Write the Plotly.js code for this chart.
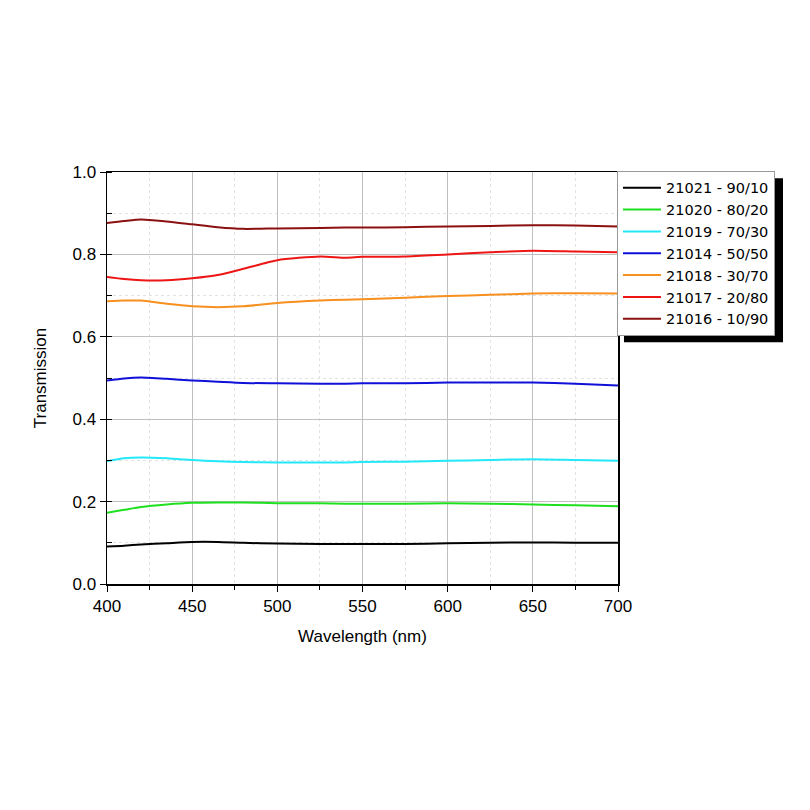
<!DOCTYPE html>
<html>
<head>
<meta charset="utf-8">
<script src="https://cdn.plot.ly/plotly-3.0.1.min.js"></script>
<style>html,body{margin:0;padding:0;background:#fff;}#chart{width:810px;height:810px;}</style>
</head>
<body>
<div id="chart"></div>
<script>
const wavelength = [400,410,420,435,450,465,480,500,525,540,550,575,600,625,650,675,700];

const names = ["21021 - 90/10","21020 - 80/20","21019 - 70/30","21014 - 50/50","21018 - 30/70","21017 - 20/80","21016 - 10/90"];

const t21021 = [0.091,0.093,0.096,0.099,0.102,0.102,0.100,0.098,0.097,0.097,0.097,0.097,0.099,0.100,0.101,0.100,0.100];
const t21020 = [0.173,0.180,0.187,0.193,0.197,0.198,0.198,0.196,0.196,0.195,0.195,0.195,0.196,0.195,0.193,0.191,0.189];
const t21019 = [0.298,0.305,0.307,0.305,0.301,0.298,0.296,0.295,0.295,0.295,0.296,0.297,0.299,0.301,0.303,0.301,0.299];
const t21014 = [0.494,0.499,0.501,0.498,0.494,0.491,0.488,0.487,0.486,0.486,0.487,0.487,0.489,0.489,0.489,0.486,0.482];
const t21018 = [0.686,0.688,0.688,0.680,0.674,0.672,0.674,0.682,0.688,0.690,0.691,0.695,0.699,0.702,0.705,0.706,0.705];
const t21017 = [0.745,0.740,0.737,0.737,0.742,0.750,0.765,0.786,0.795,0.792,0.794,0.795,0.800,0.805,0.809,0.807,0.805];
const t21016 = [0.876,0.881,0.885,0.880,0.873,0.866,0.862,0.863,0.864,0.865,0.865,0.866,0.868,0.869,0.871,0.870,0.868];

const series = [t21021,t21020,t21019,t21014,t21018,t21017,t21016];
const colors = ["#000000","#1ee01e","#22e8f8","#1010d8","#f7901e","#ee1515","#8b1010"];

const xTicks = [400,450,500,550,600,650,700];
const yTicks = [0.0,0.2,0.4,0.6,0.8,1.0];

const traces = series.map((ys,i)=>({
  x: wavelength, y: ys, name: names[i], type:'scatter', mode:'lines',
  line:{color:colors[i], width:2, shape:'spline', smoothing:0.6}
}));

const font = "Liberation Sans, Arial, sans-serif";
const layout = {
  width:810, height:810,
  margin:{l:107, r:192, t:172, b:226},
  paper_bgcolor:'#fff', plot_bgcolor:'#fff',
  font:{family:font, size:17, color:'#000'},
  showlegend:true,
  legend:{x:0.998, y:1.003, xanchor:'left', yanchor:'top', bgcolor:'#fff', bordercolor:'#999', borderwidth:1,
          font:{family:"DejaVu Sans, sans-serif", size:14.5, color:'#000'}, itemwidth:38, tracegroupgap:0},
  xaxis:{range:[400,700], tickvals:xTicks, ticktext:xTicks.map(String), ticks:'outside', ticklen:6, tickcolor:'#000',
         showline:true, linecolor:'#000', linewidth:1.5, mirror:true, zeroline:false,
         showgrid:true, gridcolor:'#c0c0c0', gridwidth:1,
         minor:{dtick:25, tick0:400, ticks:'outside', ticklen:4, tickcolor:'#000', showgrid:true, gridcolor:'#e2e2e2', griddash:'dot'},
         title:{text:'Wavelength (nm)', font:{family:font, size:17}, standoff:15},
         tickfont:{family:font, size:17}},
  yaxis:{range:[0,1], tickvals:yTicks, ticktext:yTicks.map(v=>v.toFixed(1)), ticks:'outside', ticklen:6, tickcolor:'#000',
         showline:true, linecolor:'#000', linewidth:1.5, mirror:true, zeroline:false,
         showgrid:true, gridcolor:'#c0c0c0', gridwidth:1,
         minor:{dtick:0.1, tick0:0, ticks:'inside', ticklen:5, tickcolor:'#000', showgrid:true, gridcolor:'#e2e2e2', griddash:'dot'},
         title:{text:'Transmission', font:{family:font, size:17}, standoff:21},
         tickfont:{family:font, size:17}},
  shapes:[{type:'rect', xref:'paper', yref:'paper', x0:1.0117, x1:1.3229, y0:0.587, y1:0.985,
           fillcolor:'#000', line:{width:0}, layer:'above'}]
};

Plotly.newPlot('chart', traces, layout, {displayModeBar:false, staticPlot:true});
</script>
</body>
</html>
